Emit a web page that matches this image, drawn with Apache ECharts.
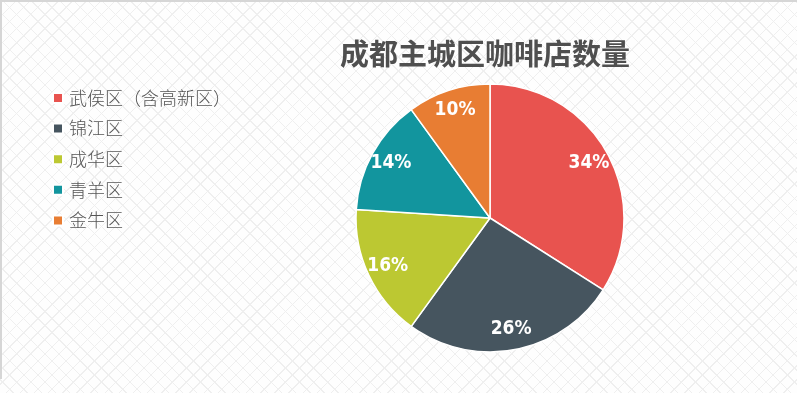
<!DOCTYPE html>
<html>
<head>
<meta charset="utf-8">
<script src="https://cdn.jsdelivr.net/npm/echarts@6/dist/echarts.min.js"></script>
<style>
html,body{margin:0;padding:0;}
body{width:797px;height:393px;overflow:hidden;background-color:#fefefe;
background-image:repeating-linear-gradient(45deg, rgba(0,0,0,0) 0px, rgba(0,0,0,0) 9px, #efefef 9px, #efefef 10px),
repeating-linear-gradient(-45deg, rgba(0,0,0,0) 0px, rgba(0,0,0,0) 9px, #efefef 9px, #efefef 10px);}
#frame{position:absolute;left:0;top:0;width:795px;height:377px;border-left:2px solid #d6d6d6;border-top:2px solid #d6d6d6;}
#chart{position:absolute;left:0;top:0;width:797px;height:393px;}
</style>
</head>
<body>
<div id="frame"></div>
<div id="chart"></div>
<script>
const titleText = '成都主城区咖啡店数量';
const categories = ['武侯区（含高新区）', '锦江区', '成华区', '青羊区', '金牛区'];
const shares = [34, 26, 16, 14, 10];
const colors = ['#E8534F', '#46555F', '#BCC832', '#12959E', '#E87D33'];

const chart = echarts.init(document.getElementById('chart'), null, {renderer: 'canvas'});
const pieData = categories.map((c, i) => ({name: c, value: shares[i], itemStyle: {color: colors[i]}}));
const labelData = categories.map((c, i) => ({name: c, value: shares[i]}));

chart.setOption({
  backgroundColor: 'transparent',
  animation: false,
  title: {
    text: titleText,
    left: 480, top: 34, textAlign: 'center',
    textStyle: {fontFamily: 'Noto Sans CJK SC', fontWeight: 'bold', fontSize: 29, color: '#4f4f4f'}
  },
  legend: {
    orient: 'vertical',
    left: 47, top: 84,
    itemWidth: 10, itemHeight: 10, itemGap: 12.6, icon: 'rect',
    textStyle: {fontFamily: 'Noto Sans CJK SC', fontWeight: 300, fontSize: 18, color: '#555555', padding: [0, 0, 0, 1]},
    data: categories.map((c, i) => ({name: c, itemStyle: {color: colors[i]}}))
  },
  series: [
    {
      type: 'pie',
      center: [490, 218],
      radius: [0, 134],
      startAngle: 90,
      clockwise: true,
      label: {show: false},
      labelLine: {show: false},
      itemStyle: {borderColor: '#ffffff', borderWidth: 1.5},
      emphasis: {disabled: true},
      data: pieData
    },
    {
      type: 'pie',
      center: [490, 218],
      radius: [86, 134],
      startAngle: 90,
      clockwise: true,
      silent: true,
      itemStyle: {color: 'rgba(0,0,0,0)'},
      label: {
        show: true, position: 'inside',
        formatter: p => p.value + '%',
        fontFamily: '"DejaVu Sans Condensed", "DejaVu Sans", sans-serif',
        fontWeight: 'bold condensed', fontSize: 19, color: '#ffffff'
      },
      labelLine: {show: false},
      emphasis: {disabled: true},
      data: labelData
    }
  ]
});
</script>
</body>
</html>
